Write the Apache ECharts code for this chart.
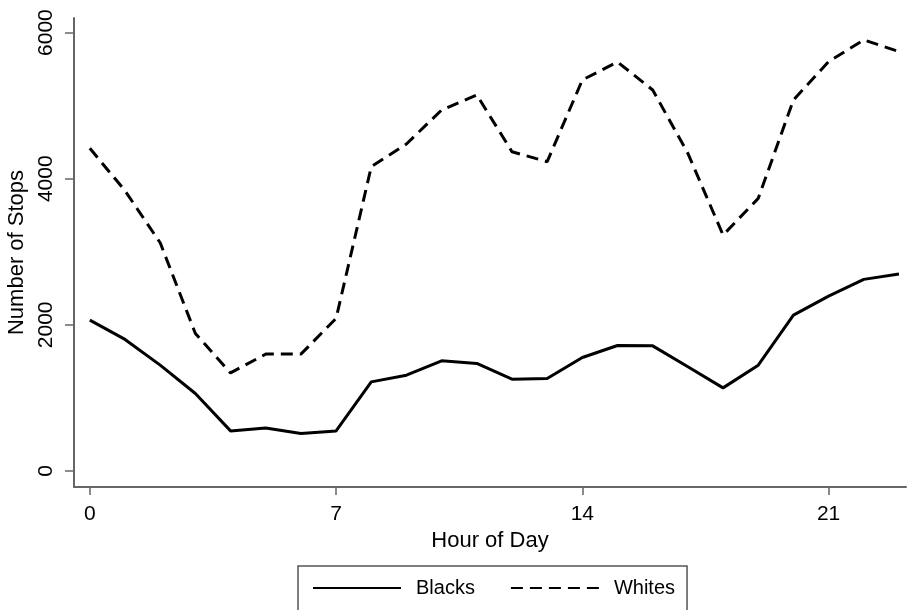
<!DOCTYPE html>
<html lang="en">
<head>
  <meta charset="UTF-8">
  <title>Stops by hour</title>
  <script src="https://cdn.jsdelivr.net/npm/echarts@6/dist/echarts.min.js"></script>
  <style>
    html, body { margin: 0; padding: 0; background: #fff; }
    #chart { width: 908px; height: 610px; }
  </style>
</head>
<body>
  <div id="chart"></div>
  <script>
    // data
    var hours = [0, 1, 2, 3, 4, 5, 6, 7, 8, 9, 10, 11, 12, 13, 14, 15, 16, 17, 18, 19, 20, 21, 22, 23]
    var blacks = [2064, 1800, 1448, 1060, 548, 589, 512, 548, 1219, 1311, 1507, 1471,
      1256, 1266, 1553, 1717, 1712, 1425, 1137, 1448, 2133, 2393, 2622, 2695]
    var whites = [4416, 3836, 3123, 1882, 1342, 1599, 1599, 2088, 4164, 4475, 4941, 5147,
      4370, 4233, 5352, 5598, 5215, 4347, 3229, 3731, 5078, 5603, 5900, 5740]
    var xTicks = [0, 7, 14, 21]
    var yTicks = [0, 2000, 4000, 6000]

    function pairs(vals) {
      return hours.map(function (h, i) { return [h, vals[i]] })
    }

    var font = 'Liberation Sans, Arial, Helvetica, sans-serif'
    var axisColor = '#666'
    var chart = echarts.init(document.getElementById('chart'))
    chart.setOption({
      animation: false,
      backgroundColor: '#fff',
      textStyle: { fontFamily: font, color: '#000' },
      grid: { left: 74, right: 2, top: 18, bottom: 123, containLabel: false, outerBoundsMode: 'none' },
      xAxis: {
        type: 'value',
        min: -0.45,
        max: 23.2,
        name: 'Hour of Day',
        nameLocation: 'middle',
        nameGap: 42,
        nameTextStyle: { fontSize: 22, color: '#000', fontFamily: font },
        axisLine: { show: true, onZero: false, lineStyle: { color: axisColor, width: 2 } },
        axisTick: { show: true, length: 8, customValues: xTicks, lineStyle: { color: axisColor, width: 1.5 } },
        axisLabel: { customValues: xTicks, margin: 17, fontSize: 21, color: '#000', fontFamily: font },
        splitLine: { show: false }
      },
      yAxis: {
        type: 'value',
        min: -220,
        max: 6200,
        name: 'Number of Stops',
        nameLocation: 'middle',
        nameGap: 43,
        nameRotate: 90,
        nameTextStyle: { fontSize: 22, color: '#000', fontFamily: font },
        axisLine: { show: true, onZero: false, lineStyle: { color: axisColor, width: 2 } },
        axisTick: { show: true, length: 9, customValues: yTicks, lineStyle: { color: axisColor, width: 1.5 } },
        axisLabel: {
          customValues: yTicks, rotate: 90, margin: 17, fontSize: 21, color: '#000', fontFamily: font,
          formatter: function (v) { return String(v) }
        },
        splitLine: { show: false }
      },
      legend: {
        left: 298,
        top: 566,
        orient: 'horizontal',
        borderColor: '#555',
        borderWidth: 1.5,
        padding: [12, 12, 20, 14],
        itemWidth: 88,
        itemHeight: 14,
        itemGap: 35,
        itemStyle: { opacity: 0 },
        textStyle: { fontSize: 20, color: '#000', fontFamily: font, padding: [0, 0, 0, 10] },
        data: ['Blacks', 'Whites']
      },
      series: [
        {
          name: 'Blacks',
          type: 'line',
          data: pairs(blacks),
          symbol: 'none',
          lineStyle: { color: '#000', width: 3, type: 'solid' },
          itemStyle: { color: '#000' }
        },
        {
          name: 'Whites',
          type: 'line',
          data: pairs(whites),
          symbol: 'none',
          lineStyle: { color: '#000', width: 3, type: [12, 7] },
          itemStyle: { color: '#000' }
        }
      ]
    })
  </script>
</body>
</html>
